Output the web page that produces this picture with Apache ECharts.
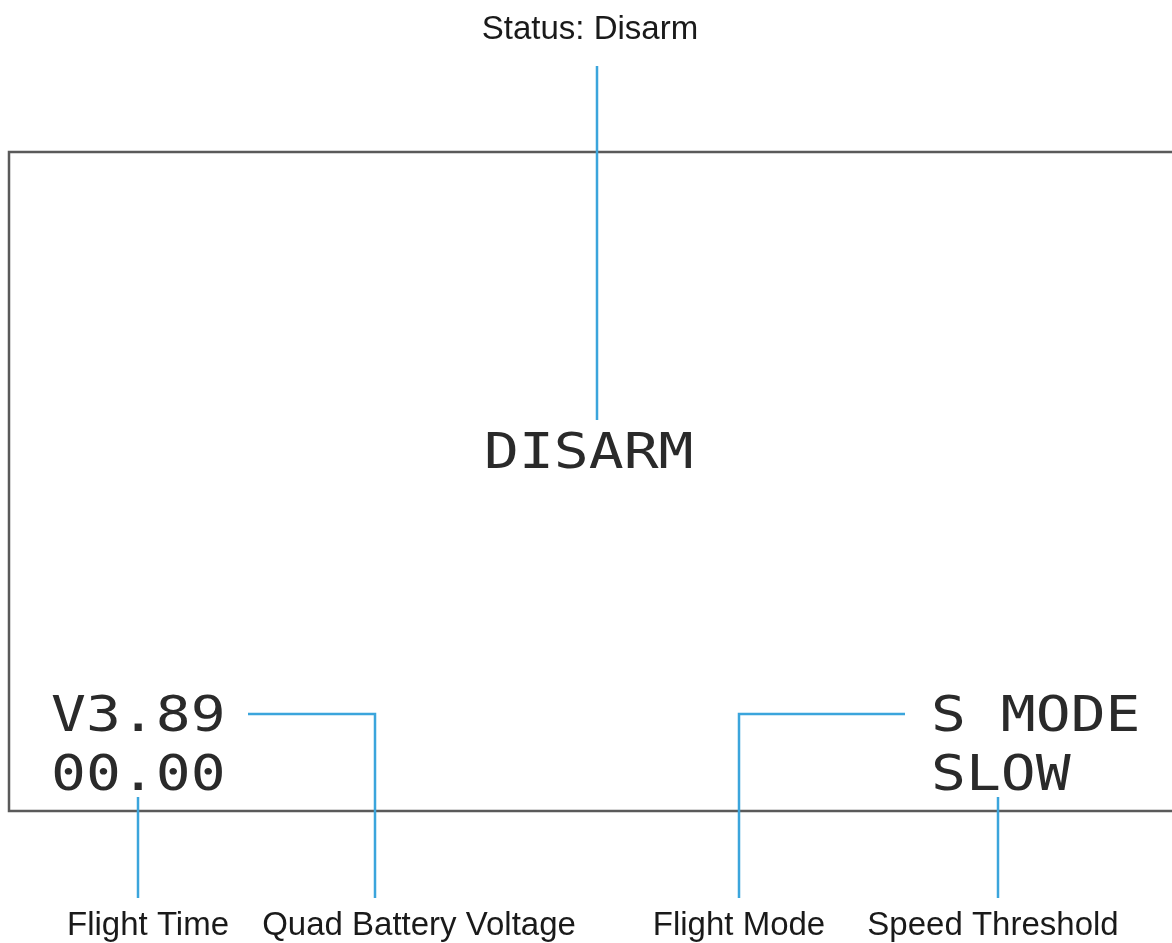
<!DOCTYPE html>
<html>
<head>
<meta charset="utf-8">
<title>OSD Disarm</title>
<script src="https://cdn.jsdelivr.net/npm/echarts@6/dist/echarts.min.js"></script>
<style>
  html, body { margin: 0; padding: 0; background: #fff; }
  #main { width: 1172px; height: 943px; }
</style>
</head>
<body>
<div id="main"></div>
<script>
// screen texts (OSD) and where they sit, in picture units
var osdTexts = ['DISARM', 'V3.89', '00.00', 'S MODE', 'SLOW'];
var osdPos = [[484, 455], [51, 718], [51, 777], [931, 718], [931, 777]];

// callout names and their anchor points
var calloutNames = ['Status: Disarm', 'Flight Time', 'Quad Battery Voltage', 'Flight Mode', 'Speed Threshold'];
var calloutPos = [[590, 30], [148, 926], [419, 926], [739, 926], [993, 926]];

// leader lines
var leaderPaths = [
  [[597, 66], [597, 420]],
  [[138, 797], [138, 898]],
  [[248, 714], [375, 714], [375, 898]],
  [[905, 714], [739, 714], [739, 898]],
  [[998, 797], [998, 898]]
];

// screen frame (right side runs off the picture)
var framePath = [[1172, 152], [9, 152], [9, 811], [1172, 811]];

var chart = echarts.init(document.getElementById('main'));

function textSeries(name, texts, pos, font, color, align, sx) {
  return {
    name: name,
    type: 'custom',
    coordinateSystem: 'cartesian2d',
    silent: true,
    data: pos,
    renderItem: function (params, api) {
      var pt = api.coord([api.value(0), api.value(1)]);
      return {
        type: 'text',
        x: pt[0],
        y: pt[1],
        scaleX: sx,
        style: {
          text: texts[params.dataIndex],
          x: 0,
          y: 0,
          font: font,
          fill: color,
          align: align,
          verticalAlign: 'middle'
        }
      };
    }
  };
}

var option = {
  animation: false,
  backgroundColor: '#fff',
  grid: { left: 0, right: 0, top: 0, bottom: 0 },
  xAxis: { type: 'value', min: 0, max: 1172, show: false },
  yAxis: { type: 'value', min: 0, max: 943, inverse: true, show: false },
  series: [
    {
      name: 'frame',
      type: 'lines',
      coordinateSystem: 'cartesian2d',
      polyline: true,
      silent: true,
      lineStyle: { color: '#5a5a5a', width: 2.5, opacity: 1 },
      data: [{ coords: framePath }]
    },
    {
      name: 'leaders',
      type: 'lines',
      coordinateSystem: 'cartesian2d',
      polyline: true,
      silent: true,
      lineStyle: { color: '#3ba5dc', width: 2.5, opacity: 1, join: 'miter' },
      data: leaderPaths.map(function (p) { return { coords: p }; })
    },
    textSeries('osd', osdTexts, osdPos, '50px "DejaVu Sans Mono", monospace', '#2a2a2a', 'left', 1.16),
    textSeries('callouts', calloutNames, calloutPos, '33px "Liberation Sans", Arial, sans-serif', '#1a1a1a', 'center', 1)
  ]
};

chart.setOption(option);
</script>
</body>
</html>
